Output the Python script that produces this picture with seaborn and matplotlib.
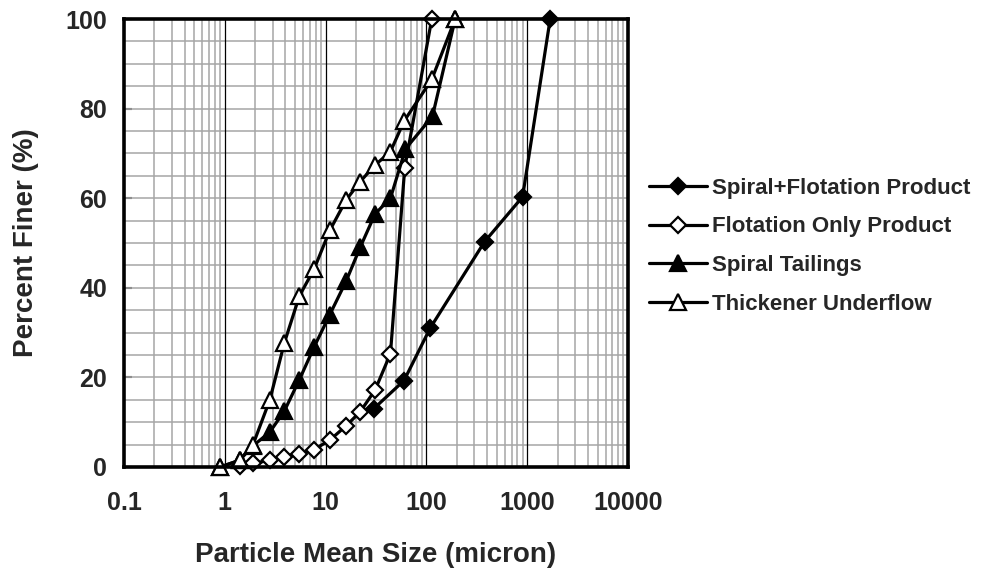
import matplotlib
matplotlib.use("Agg")
import matplotlib.pyplot as plt
import seaborn as sns
import numpy as np
import pandas as pd
from matplotlib.ticker import FixedLocator, NullFormatter, FixedFormatter

# ---------------- data ----------------
series_names = ["Spiral+Flotation Product", "Flotation Only Product",
                "Spiral Tailings", "Thickener Underflow"]

sf_size = [30, 60, 109, 378, 900, 1690]
sf_pct = [13.0, 19.3, 31.0, 50.3, 60.3, 100.0]

fo_size = [1.4, 1.9, 2.8, 3.9, 5.5, 7.7, 11, 16, 22, 31, 44, 61, 113]
fo_pct = [0.2, 0.8, 1.5, 2.2, 3.0, 3.9, 6.0, 9.2, 12.3, 17.2, 25.3, 66.8, 100.0]

st_size = [0.9, 1.4, 1.9, 2.8, 3.9, 5.5, 7.7, 11, 16, 22, 31, 44, 62, 115, 193]
st_pct = [0.0, 1.5, 4.7, 7.8, 12.5, 19.5, 26.8, 34.0, 41.5, 49.0, 56.5, 60.0, 71.0, 78.3, 100.0]

tu_size = [0.9, 1.4, 1.9, 2.8, 3.9, 5.5, 7.7, 11, 16, 22, 31, 44, 60, 113, 193]
tu_pct = [0.0, 1.5, 4.9, 15.0, 27.7, 38.2, 44.2, 52.8, 59.6, 63.7, 67.4, 70.4, 77.2, 86.5, 100.0]

x_ticks = [0.1, 1, 10, 100, 1000, 10000]
x_tick_labels = ["0.1", "1", "10", "100", "1000", "10000"]
y_ticks = [0, 20, 40, 60, 80, 100]

# ---------------- styling ----------------
sns.set_theme(style="white")
plt.rcParams["font.family"] = ["Liberation Sans", "DejaVu Sans"]
plt.rcParams["font.weight"] = "bold"

fig = plt.figure(figsize=(9.91, 5.73), dpi=100)
ax = fig.add_axes([0.1251, 0.185, 0.5086, 0.7818])

data = [(sf_size, sf_pct), (fo_size, fo_pct), (st_size, st_pct), (tu_size, tu_pct)]
styles = [
    dict(marker="D", markersize=8, markerfacecolor="black"),
    dict(marker="D", markersize=8, markerfacecolor="white"),
    dict(marker="^", markersize=11, markerfacecolor="black"),
    dict(marker="^", markersize=11, markerfacecolor="white"),
]

for i, (name, (xs, ys), st) in enumerate(zip(series_names, data, styles)):
    df = pd.DataFrame({"size": xs, "pct": ys})
    sns.lineplot(data=df, x="size", y="pct", ax=ax, color="black",
                 linewidth=2.3, markeredgecolor="black", markeredgewidth=1.6,
                 label=name, clip_on=False, zorder=3 + i, sort=False, **st)

ax.set_xscale("log")
ax.set_xlim(0.1, 10000)
ax.set_ylim(0, 100)

# grid
minor = []
for d in [0.1, 1, 10, 100, 1000]:
    for k in range(2, 10):
        minor.append(d * k)
for m in minor:
    ax.axvline(m, color="#a6a6a6", linewidth=1.1, zorder=1)
for d in x_ticks[1:-1]:
    ax.axvline(d, color="black", linewidth=0.9, zorder=1.5)
for yv in range(5, 100, 5):
    ax.axhline(yv, color="#a6a6a6", linewidth=1.1, zorder=1)

ax.xaxis.set_major_locator(FixedLocator(x_ticks))
ax.xaxis.set_major_formatter(FixedFormatter(x_tick_labels))
ax.xaxis.set_minor_locator(FixedLocator([]))
ax.xaxis.set_minor_formatter(NullFormatter())
ax.set_yticks(y_ticks)
ax.tick_params(axis="x", length=0, pad=17, labelsize=18)
ax.tick_params(axis="y", direction="in", length=6, width=1.5, color="#404040",
               pad=12, labelsize=18, left=True)
for lab in ax.get_xticklabels() + ax.get_yticklabels():
    lab.set_fontweight("bold")

for sp in ax.spines.values():
    sp.set_linewidth(2.6)
    sp.set_color("black")
    sp.set_zorder(10)

ax.set_xlabel("Particle Mean Size (micron)", fontsize=20, fontweight="bold", labelpad=20)
ax.set_ylabel("Percent Finer (%)", fontsize=20, fontweight="bold", labelpad=19)

leg = ax.legend(loc="upper left", bbox_to_anchor=(0.655, 0.69),
                bbox_transform=fig.transFigure, frameon=False,
                handlelength=2.6, handletextpad=0.25, labelspacing=0.8,
                borderpad=0, borderaxespad=0, prop=dict(size=16, weight="bold"))

fig.savefig("out.png", dpi=100)
